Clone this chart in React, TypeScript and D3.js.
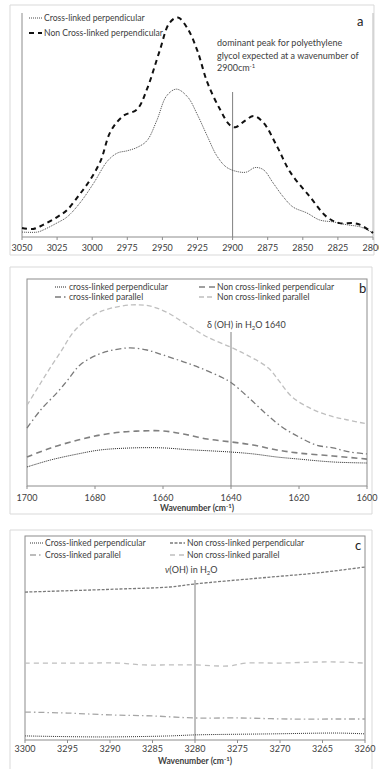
import React from "react";
import * as d3 from "d3";

// ---------- DATA ----------
// Panel a (wavenumber, intensity a.u.)
const aTicks = [3050, 3025, 3000, 2975, 2950, 2925, 2900, 2875, 2850, 2825, 2800];
const aCrossPerp: [number, number][] = [
  [3050, 0.022], [3039, 0.022], [3035, 0.031], [3025, 0.063], [3018, 0.089], [3009, 0.15],
  [2999, 0.24], [2989, 0.34], [2982, 0.375], [2975, 0.385], [2968, 0.40], [2961, 0.43],
  [2954, 0.52], [2947, 0.63], [2940, 0.66], [2932, 0.625], [2925, 0.545], [2918, 0.45],
  [2911, 0.36], [2904, 0.31], [2895, 0.29], [2890, 0.29], [2884, 0.31], [2878, 0.30],
  [2871, 0.24], [2864, 0.18], [2857, 0.134], [2847, 0.107], [2838, 0.076], [2828, 0.067],
  [2818, 0.054], [2809, 0.045], [2800, 0.018],
];
const aNonCrossPerp: [number, number][] = [
  [3050, 0.04], [3042, 0.036], [3035, 0.054], [3025, 0.089], [3018, 0.12], [3009, 0.19],
  [3002, 0.25], [2994, 0.34], [2987, 0.47], [2978, 0.54], [2968, 0.57], [2961, 0.66],
  [2952, 0.83], [2945, 0.955], [2939, 0.98], [2932, 0.93], [2925, 0.83], [2918, 0.69],
  [2909, 0.57], [2902, 0.5], [2898, 0.49], [2891, 0.52], [2885, 0.54], [2878, 0.51],
  [2868, 0.4], [2859, 0.29], [2845, 0.18], [2833, 0.09], [2824, 0.062], [2814, 0.062],
  [2809, 0.054], [2800, 0.018],
];

// Panel b
const bTicks = [1700, 1680, 1660, 1640, 1620, 1600];
const bCrossPerp: [number, number][] = [
  [1700, 0.092], [1693, 0.126], [1685, 0.155], [1678.5, 0.174], [1669, 0.184], [1660, 0.184],
  [1653, 0.176], [1640, 0.164], [1633.5, 0.155], [1626.5, 0.14], [1620, 0.13], [1610, 0.116],
  [1600, 0.111],
];
const bNonCrossPerp: [number, number][] = [
  [1700, 0.14], [1693, 0.184], [1685, 0.222], [1678.5, 0.246], [1672, 0.261], [1666, 0.266],
  [1660, 0.266], [1654, 0.251], [1647, 0.227], [1640, 0.213], [1633.5, 0.198], [1626.5, 0.174],
  [1620, 0.159], [1610, 0.145], [1600, 0.13],
];
const bCrossPar: [number, number][] = [
  [1700, 0.28], [1696, 0.367], [1691, 0.454], [1688, 0.512], [1684.4, 0.585], [1679.4, 0.633],
  [1674.7, 0.657], [1669.7, 0.667], [1664.7, 0.657], [1660, 0.633], [1654, 0.6], [1649, 0.57],
  [1643, 0.527], [1640, 0.5], [1635, 0.43], [1630, 0.353], [1625, 0.285], [1620, 0.237],
  [1615, 0.198], [1610, 0.184], [1605, 0.164], [1600, 0.155],
];
const bNonCrossPar: [number, number][] = [
  [1700, 0.39], [1697, 0.47], [1694, 0.55], [1690, 0.65], [1686, 0.75], [1680, 0.83],
  [1675, 0.86], [1669, 0.875], [1664, 0.87], [1659, 0.84], [1653, 0.78], [1647, 0.72],
  [1640, 0.67], [1635, 0.63], [1629, 0.57], [1626, 0.51], [1622, 0.43], [1616, 0.37],
  [1610, 0.335], [1606, 0.32], [1600, 0.3],
];

// Panel c
const cTicks = [3300, 3295, 3290, 3285, 3280, 3275, 3270, 3265, 3260];
const cCrossPerp: [number, number][] = [
  [3300, 0.02], [3291, 0.015], [3283, 0.02], [3280, 0.025], [3271, 0.03], [3263, 0.034], [3260, 0.03],
];
const cNonCrossPerp: [number, number][] = [
  [3300, 0.725], [3289, 0.74], [3283, 0.75], [3280, 0.765], [3273.5, 0.79], [3269.6, 0.804],
  [3265.6, 0.819], [3260, 0.848],
];
const cCrossPar: [number, number][] = [
  [3300, 0.137], [3295, 0.132], [3290, 0.123], [3285, 0.118], [3280, 0.108], [3275, 0.108],
  [3269, 0.103], [3263, 0.103], [3260, 0.103],
];
const cNonCrossPar: [number, number][] = [
  [3300, 0.377], [3293, 0.377], [3289, 0.377], [3286, 0.368], [3283, 0.368], [3280, 0.368],
  [3276, 0.363], [3274, 0.377], [3270, 0.377], [3266, 0.382], [3263, 0.382], [3260, 0.377],
];

// ---------- STYLE ----------
const FONT = 'Lato, "Open Sans", sans-serif';
const FRAME = "#d9d9d9";
const AXIS = "#8c8c8c";
const TXT = "#404040";

type Series = {
  data: [number, number][];
  stroke: string;
  width: number;
  dash: string;
  label: string;
};

type LegendItem = { x: number; y: number; s: Series; sample: number };

type PanelProps = {
  outer: { x0: number; y0: number; x1: number; y1: number; noBottom?: boolean };
  plot: { x0: number; y0: number; x1: number; y1: number; box: boolean };
  domain: [number, number];
  ticks: number[];
  series: Series[];
  legend: LegendItem[];
  letter: { x: number; y: number; t: string };
  markerWn: number;
  markerTop: number;
  tickY: number;
  title?: number;
  children?: React.ReactNode;
};

function Panel(p: PanelProps) {
  const x = d3.scaleLinear().domain(p.domain).range([p.plot.x0, p.plot.x1]);
  const y = d3.scaleLinear().domain([0, 1]).range([p.plot.y1, p.plot.y0]);
  const line = d3
    .line<[number, number]>()
    .x((d) => x(d[0]))
    .y((d) => y(d[1]))
    .curve(d3.curveCatmullRom.alpha(0.5));
  const { x0, y0, x1, y1 } = p.outer;
  return (
    <g>
      <path
        d={
          p.outer.noBottom
            ? `M${x0},${y1 + 50}V${y0}H${x1}V${y1 + 50}`
            : `M${x0},${y0}H${x1}V${y1}H${x0}Z`
        }
        fill="none"
        stroke={FRAME}
        strokeWidth={1}
      />
      {p.plot.box ? (
        <rect
          x={p.plot.x0}
          y={p.plot.y0}
          width={p.plot.x1 - p.plot.x0}
          height={p.plot.y1 - p.plot.y0}
          fill="none"
          stroke={AXIS}
          strokeWidth={1}
        />
      ) : (
        <g stroke={AXIS} strokeWidth={1}>
          <line x1={p.plot.x0} x2={p.plot.x0} y1={p.plot.y0} y2={p.plot.y1} />
          <line x1={p.plot.x1} x2={p.plot.x1} y1={p.plot.y0} y2={p.plot.y1} stroke="#bbb" />
          <line x1={p.plot.x0} x2={p.plot.x1} y1={p.plot.y1} y2={p.plot.y1} />
        </g>
      )}
      {p.ticks.map((t) => (
        <g key={t}>
          <line x1={x(t)} x2={x(t)} y1={p.plot.y1} y2={p.plot.y1 + 3} stroke={AXIS} />
          <text
            x={x(t)}
            y={p.tickY}
            textAnchor="middle"
            fontSize={9}
            fontFamily={FONT}
            fill={TXT}
          >
            {t}
          </text>
        </g>
      ))}
      {p.title !== undefined && (
        <text
          x={(p.plot.x0 + p.plot.x1) / 2}
          y={p.title}
          textAnchor="middle"
          fontSize={8.5}
          fontWeight="bold"
          fontFamily={FONT}
          fill={TXT}
        >
          Wavenumber (cm
          <tspan dy={-3} fontSize={6}>
            -1
          </tspan>
          <tspan dy={3}>)</tspan>
        </text>
      )}
      <line
        x1={x(p.markerWn)}
        x2={x(p.markerWn)}
        y1={p.markerTop}
        y2={p.plot.y1}
        stroke="#808080"
        strokeWidth={1}
      />
      {p.series.map((s, i) => (
        <path
          key={i}
          d={line(s.data) || ""}
          fill="none"
          stroke={s.stroke}
          strokeWidth={s.width}
          strokeDasharray={s.dash}
        />
      ))}
      {p.legend.map((l, i) => (
        <g key={i}>
          <line
            x1={l.x}
            x2={l.x + l.sample}
            y1={l.y}
            y2={l.y}
            stroke={l.s.stroke}
            strokeWidth={l.s.width}
            strokeDasharray={l.s.dash}
          />
          <text
            x={l.x + l.sample + 2}
            y={l.y + 3}
            fontSize={8.6}
            fontFamily={FONT}
            fill={TXT}
          >
            {l.s.label}
          </text>
        </g>
      ))}
      <text x={p.letter.x} y={p.letter.y} fontSize={13} fontFamily={FONT} fill="#222">
        {p.letter.t}
      </text>
      {p.children}
    </g>
  );
}

export default function App() {
  const aS: Series[] = [
    { data: aCrossPerp, stroke: "#333", width: 0.9, dash: "1,1", label: "Cross-linked perpendicular" },
    { data: aNonCrossPerp, stroke: "#111", width: 2, dash: "5,4", label: "Non Cross-linked perpendicular" },
  ];
  const bS: Series[] = [
    { data: bCrossPerp, stroke: "#222", width: 1, dash: "1,1", label: "cross-linked perpendicular" },
    { data: bNonCrossPerp, stroke: "#808080", width: 1.6, dash: "6,4", label: "Non cross-linked perpendicular" },
    { data: bCrossPar, stroke: "#7a7a7a", width: 1.3, dash: "6,3,1.5,3", label: "cross-linked parallel" },
    { data: bNonCrossPar, stroke: "#bfbfbf", width: 1.3, dash: "5,3", label: "Non cross-linked parallel" },
  ];
  const cS: Series[] = [
    { data: cCrossPerp, stroke: "#333", width: 1, dash: "1,1", label: "Cross-linked perpendicular" },
    { data: cNonCrossPerp, stroke: "#7a7a7a", width: 1.3, dash: "3,1.5", label: "Non cross-linked perpendicular" },
    { data: cCrossPar, stroke: "#a6a6a6", width: 1.3, dash: "6,3,1.5,3", label: "Cross-linked parallel" },
    { data: cNonCrossPar, stroke: "#bfbfbf", width: 1.3, dash: "5,4", label: "Non cross-linked parallel" },
  ];
  const annSize = 9;
  return (
    <svg
      width={379}
      height={769}
      style={{ position: "absolute", left: 0, top: 0, background: "#fff" }}
    >
      <rect x={0} y={0} width={379} height={769} fill="#fff" />
      <Panel
        outer={{ x0: 10, y0: 5, x1: 374, y1: 255 }}
        plot={{ x0: 22, y0: 13, x1: 373, y1: 237, box: false }}
        domain={[3050, 2800]}
        ticks={aTicks}
        series={aS}
        legend={[
          { x: 29, y: 18, s: aS[0], sample: 13 },
          { x: 29, y: 33, s: aS[1], sample: 13 },
        ]}
        letter={{ x: 357, y: 26, t: "a" }}
        markerWn={2900}
        markerTop={92}
        tickY={251}
      >
        <text x={217} y={46} fontSize={annSize} fontFamily={FONT} fill={TXT}>
          dominant peak for polyethylene
        </text>
        <text x={217} y={59} fontSize={annSize} fontFamily={FONT} fill={TXT}>
          glycol expected at a wavenumber of
        </text>
        <text x={217} y={71} fontSize={annSize} fontFamily={FONT} fill={TXT}>
          2900cm
          <tspan dy={-3} fontSize={6}>
            -1
          </tspan>
        </text>
      </Panel>
      <Panel
        outer={{ x0: 10, y0: 267, x1: 372, y1: 514 }}
        plot={{ x0: 27, y0: 279, x1: 367, y1: 486, box: true }}
        domain={[1700, 1600]}
        ticks={bTicks}
        series={bS}
        legend={[
          { x: 55, y: 287, s: bS[0], sample: 12 },
          { x: 55, y: 297, s: bS[2], sample: 12 },
          { x: 199, y: 287, s: bS[1], sample: 16 },
          { x: 199, y: 297, s: bS[3], sample: 16 },
        ]}
        letter={{ x: 359, y: 293, t: "b" }}
        markerWn={1640}
        markerTop={332}
        tickY={501}
        title={511}
      >
        <text x={207} y={328} fontSize={annSize} fontFamily={FONT} fill={TXT}>
          δ (OH) in H
          <tspan dy={2} fontSize={6}>
            2
          </tspan>
          <tspan dy={-2}>O 1640</tspan>
        </text>
      </Panel>
      <Panel
        outer={{ x0: 10, y0: 530, x1: 372, y1: 769, noBottom: true }}
        plot={{ x0: 25, y0: 536, x1: 365, y1: 740, box: true }}
        domain={[3300, 3260]}
        ticks={cTicks}
        series={cS}
        legend={[
          { x: 30, y: 543, s: cS[0], sample: 13 },
          { x: 30, y: 555, s: cS[2], sample: 13 },
          { x: 170, y: 543, s: cS[1], sample: 15 },
          { x: 170, y: 555, s: cS[3], sample: 15 },
        ]}
        letter={{ x: 355, y: 550, t: "c" }}
        markerWn={3280}
        markerTop={580}
        tickY={752}
        title={764}
      >
        <text x={165} y={573} fontSize={annSize} fontFamily={FONT} fill={TXT}>
          <tspan fontStyle="italic">ν</tspan>(OH) in H
          <tspan dy={2} fontSize={6}>
            2
          </tspan>
          <tspan dy={-2}>O</tspan>
        </text>
      </Panel>
    </svg>
  );
}
